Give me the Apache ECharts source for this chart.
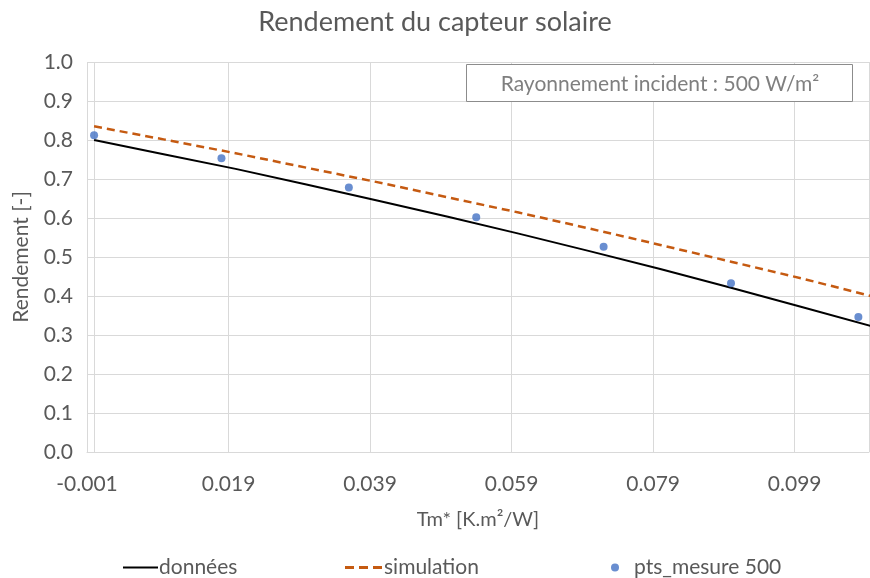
<!DOCTYPE html>
<html>
<head>
<meta charset="utf-8">
<script src="https://cdn.jsdelivr.net/npm/echarts@6/dist/echarts.min.js"></script>
<style>
html,body{margin:0;padding:0;background:#fff;}
#chart{width:870px;height:578px;}
</style>
</head>
<body>
<div id="chart"></div>
<script>
// Data
const curveX = [0, 0.01, 0.02, 0.03, 0.04, 0.05, 0.06, 0.07, 0.08, 0.09, 0.10, 0.11];
const donneesY = [0.800, 0.763, 0.726, 0.686, 0.645, 0.603, 0.560, 0.515, 0.469, 0.421, 0.372, 0.322];
const simulationY = [0.835, 0.801, 0.766, 0.729, 0.692, 0.653, 0.614, 0.573, 0.531, 0.488, 0.445, 0.399];
const mesureX = [0, 0.018, 0.036, 0.054, 0.072, 0.090, 0.108];
const mesureY = [0.812, 0.753, 0.678, 0.602, 0.526, 0.433, 0.346];
const seriesNames = ['données', 'simulation', 'pts_mesure 500'];
const titleText = 'Rendement du capteur solaire';
const xName = 'Tm* [K.m²/W]';
const yName = 'Rendement [-]';
const noteText = 'Rayonnement incident : 500 W/m²';

const FONT = 'Lato';
const TXT = '#595959';

const zip = (xs, ys) => xs.map((x, i) => [x, ys[i]]);

const chart = echarts.init(document.getElementById('chart'), null, {renderer: 'canvas'});
chart.setOption({
  animation: false,
  backgroundColor: '#ffffff',
  title: {
    text: titleText, left: 'center', top: 4,
    textStyle: {fontFamily: FONT, fontSize: 27, fontWeight: 'normal', color: TXT}
  },
  grid: {left: 87, right: 1, top: 62, bottom: 126, containLabel: false},
  xAxis: {
    type: 'value', min: -0.001, max: 0.1095, interval: 0.02,
    name: xName, nameLocation: 'middle', nameGap: 58,
    nameTextStyle: {fontFamily: FONT, fontSize: 20, color: TXT},
    axisLine: {show: true, onZero: false, lineStyle: {color: '#d9d9d9', width: 1}},
    axisTick: {show: false},
    axisLabel: {
      fontFamily: FONT, fontSize: 21, color: TXT, margin: 22,
      showMaxLabel: false,
      formatter: v => v.toFixed(3)
    },
    splitLine: {show: true, lineStyle: {color: '#d9d9d9', width: 1}}
  },
  yAxis: {
    type: 'value', min: 0, max: 1, interval: 0.1,
    name: yName, nameLocation: 'middle', nameGap: 55, nameRotate: 90,
    nameTextStyle: {fontFamily: FONT, fontSize: 21, color: TXT},
    axisLine: {show: false},
    axisTick: {show: false},
    axisLabel: {fontFamily: FONT, fontSize: 21, color: TXT, margin: 14, formatter: v => v.toFixed(1)},
    splitLine: {show: true, lineStyle: {color: '#d9d9d9', width: 1}}
  },
  legend: [
    {data: [{name: seriesNames[0], icon: 'rect'}], left: 118, top: 552, itemWidth: 35, itemHeight: 2, itemGap: 0,
     textStyle: {fontFamily: FONT, fontSize: 21, color: TXT, padding: [0, 0, 0, -4]}},
    {data: [{name: seriesNames[1], icon: 'path://M0,0h9v3h-9z M14,0h9v3h-9z M28,0h9v3h-9z'}],
     left: 340, top: 552, itemWidth: 37, itemHeight: 3, itemGap: 0,
     textStyle: {fontFamily: FONT, fontSize: 21, color: TXT, padding: [0, 0, 0, -3]}},
    {data: [{name: seriesNames[2], icon: 'circle'}], left: 606, top: 552, itemWidth: 8, itemHeight: 8, itemGap: 0,
     textStyle: {fontFamily: FONT, fontSize: 21, color: TXT, padding: [0, 0, 0, 10]}}
  ],
  graphic: [
    {type: 'rect', shape: {x: 466.5, y: 64.5, width: 386, height: 37},
     style: {fill: '#ffffff', stroke: '#8c8c8c', lineWidth: 1}, z: 100},
    {type: 'text', x: 660, y: 84, z: 101,
     style: {text: noteText, fill: '#7f7f7f', font: '21px Lato', textAlign: 'center', textVerticalAlign: 'middle'}}
  ],
  series: [
    {
      name: seriesNames[0], type: 'line', data: zip(curveX, donneesY),
      showSymbol: false, symbol: 'none', smooth: false,
      lineStyle: {color: '#000000', width: 2},
      itemStyle: {color: '#000000'},
      z: 3,
      markLine: {
        silent: true, symbol: 'none', label: {show: false}, z: 1,
        lineStyle: {color: '#d9d9d9', type: 'solid', width: 1},
        data: [{xAxis: 0}]
      }
    },
    {
      name: seriesNames[1], type: 'line', data: zip(curveX, simulationY),
      showSymbol: false, symbol: 'none', smooth: false,
      lineStyle: {color: '#C55A11', width: 2.5, type: [8, 5]},
      itemStyle: {color: '#C55A11'},
      z: 3
    },
    {
      name: seriesNames[2], type: 'scatter', data: zip(mesureX, mesureY),
      symbol: 'circle', symbolSize: 8,
      itemStyle: {color: '#4472C4'},
      z: 4
    }
  ]
});
</script>
</body>
</html>
